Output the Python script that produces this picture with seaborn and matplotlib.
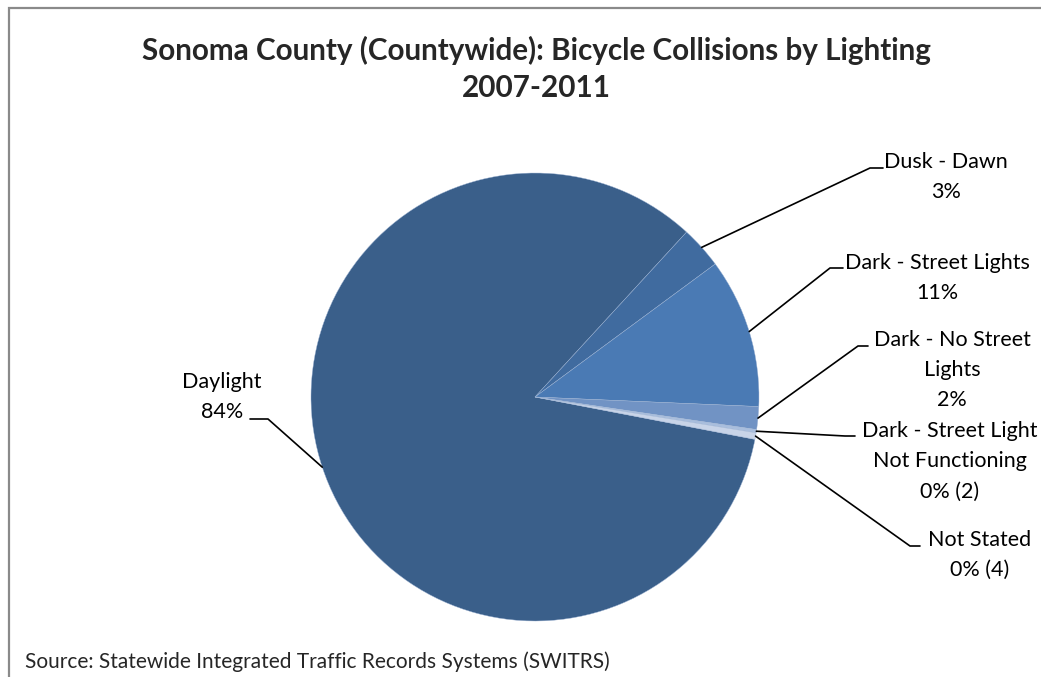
import numpy as np
import matplotlib
matplotlib.use("Agg")
import matplotlib.pyplot as plt
import seaborn as sns
from matplotlib.patches import Rectangle
from matplotlib.lines import Line2D

# collision counts by lighting condition
categories = ["Daylight", "Dusk - Dawn", "Dark - Street Lights",
              "Dark - No Street Lights", "Dark - Street Light Not Functioning",
              "Not Stated"]
label_text = ["Daylight", "Dusk - Dawn", "Dark - Street Lights",
              "Dark - No Street\nLights", "Dark - Street Light\nNot Functioning",
              "Not Stated"]
counts = [714, 26, 92, 14, 2, 4]
show_count = [False, False, False, False, True, True]

colors = ["#3a5f8a", "#406b9f", "#4a7ab4", "#7193c4", "#a9bedd", "#c8d4e8"]

sns.set_theme(style="white")
plt.rcParams["font.family"] = ["Lato", "DejaVu Sans"]

W, H = 1041, 677
fig = plt.figure(figsize=(W / 100, H / 100), dpi=100)
cx, cy, r = 535, 397, 224
ax = fig.add_axes([(cx - r) / W, (H - cy - r) / H, 2 * r / W, 2 * r / H])
ax.set_axis_off()

wedges, _ = ax.pie(counts, colors=colors, startangle=-10.9, counterclock=False,
                   radius=1, wedgeprops=dict(edgecolor="#9db3d3", linewidth=0.3))
ax.set_xlim(-1, 1)
ax.set_ylim(-1, 1)

total = sum(counts)
# label block centre (px, from top-left) and elbow of leader line
label_pos = [(222, 397), (946, 177), (937, 278), (952, 370), (950, 461), (980, 555)]
elbows = [((268, 419), (250, 419)), ((870, 168), (883, 168)), ((830, 268), (843, 268)),
          ((858, 346), (868, 346)), ((845, 436), (855, 436)), ((910, 546), (920, 546))]

def px2data(p):
    return ax.transData.inverted().transform((p[0], H - p[1]))

for w, lab, n, sc, (tx, ty), (e1, e2) in zip(wedges, label_text, counts, show_count,
                                               label_pos, elbows):
    pct = 100 * n / total
    s = f"{pct:.0f}%"
    if sc:
        s += f" ({n})"
    fig.text(tx / W, 1 - ty / H, lab + "\n" + s, ha="center", va="center",
             multialignment="center", fontsize=15.5, linespacing=1.65, color="black")
    mid = np.deg2rad((w.theta1 + w.theta2) / 2)
    p0 = (np.cos(mid), np.sin(mid))
    p1 = px2data(e1)
    p2 = px2data(e2)
    ax.add_line(Line2D([p0[0], p1[0], p2[0]], [p0[1], p1[1], p2[1]],
                       color="black", lw=1.2, clip_on=False))

fig.text(536 / W, 1 - 50 / H, "Sonoma County (Countywide): Bicycle Collisions by Lighting",
         ha="center", va="center", fontsize=21.3, fontweight="bold")
fig.text(536 / W, 1 - 88 / H, "2007-2011", ha="center", va="center",
         fontsize=21.3, fontweight="bold")
fig.text(25 / W, 1 - 662 / H, "Source: Statewide Integrated Traffic Records Systems (SWITRS)",
         ha="left", va="center", fontsize=15)

fig.patches.append(Rectangle((9, -20), W + 40, H - 8 + 20, transform=None,
                             fill=False, edgecolor="#8a8a8a", linewidth=1.6))

fig.savefig("out.png", dpi=100, facecolor="white")
